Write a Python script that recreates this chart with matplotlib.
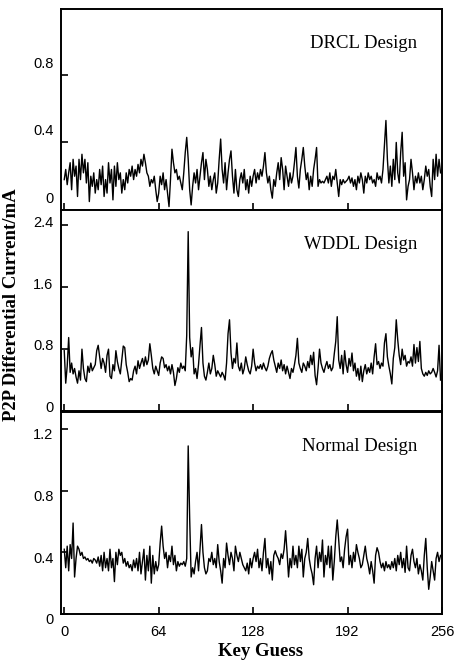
import matplotlib
matplotlib.use("Agg")
import matplotlib.pyplot as plt
import matplotlib.transforms as mtransforms
import numpy as np

key_guess = np.arange(256)

drcl = [
    0.18, 0.24, 0.15, 0.22, 0.28, 0.12, 0.30, 0.20, 0.26, 0.08, 0.30, 0.18, 0.33, 0.22, 0.30, 0.16,
    0.28, 0.05, 0.20, 0.14, 0.22, 0.10, 0.18, 0.12, 0.24, 0.15, 0.26, 0.08, 0.18, 0.10, 0.28, 0.16,
    0.24, 0.06, 0.26, 0.14, 0.28, 0.18, 0.22, 0.10, 0.18, 0.12, 0.22, 0.16, 0.24, 0.20, 0.26, 0.18,
    0.24, 0.20, 0.27, 0.22, 0.30, 0.26, 0.33, 0.28, 0.22, 0.20, 0.14, 0.18, 0.16, 0.20, 0.12, 0.05,
    0.10, 0.20, 0.15, 0.22, 0.12, 0.18, 0.10, 0.02, 0.18, 0.36, 0.28, 0.22, 0.24, 0.18, 0.20, 0.16,
    0.12, 0.22, 0.34, 0.43, 0.30, 0.12, 0.03, 0.14, 0.22, 0.16, 0.24, 0.12, 0.20, 0.28, 0.34, 0.18,
    0.30, 0.24, 0.14, 0.20, 0.12, 0.18, 0.22, 0.10, 0.16, 0.30, 0.42, 0.24, 0.16, 0.28, 0.12, 0.22,
    0.30, 0.35, 0.20, 0.10, 0.24, 0.12, 0.08, 0.18, 0.22, 0.16, 0.24, 0.12, 0.18, 0.10, 0.20, 0.14,
    0.20, 0.24, 0.16, 0.22, 0.18, 0.24, 0.20, 0.26, 0.34, 0.22, 0.16, 0.20, 0.12, 0.07, 0.18, 0.14,
    0.22, 0.28, 0.18, 0.31, 0.24, 0.12, 0.26, 0.20, 0.14, 0.22, 0.16, 0.20, 0.28, 0.37, 0.20, 0.13,
    0.24, 0.30, 0.37, 0.26, 0.18, 0.22, 0.12, 0.20, 0.14, 0.24, 0.30, 0.37, 0.14, 0.18, 0.16, 0.17,
    0.16, 0.18, 0.20, 0.16, 0.22, 0.14, 0.20, 0.18, 0.24, 0.16, 0.08, 0.18, 0.15, 0.18, 0.16, 0.17,
    0.18, 0.20, 0.16, 0.19, 0.14, 0.18, 0.12, 0.20, 0.16, 0.22, 0.18, 0.10, 0.20, 0.16, 0.22, 0.18,
    0.20, 0.16, 0.18, 0.14, 0.22, 0.18, 0.20, 0.16, 0.24, 0.38, 0.53, 0.30, 0.16, 0.26, 0.14, 0.30,
    0.18, 0.40, 0.22, 0.16, 0.34, 0.46, 0.20, 0.28, 0.06, 0.14, 0.18, 0.30, 0.22, 0.12, 0.20, 0.16,
    0.22, 0.16, 0.20, 0.12, 0.18, 0.26, 0.20, 0.24, 0.14, 0.08, 0.30, 0.18, 0.33, 0.20, 0.30, 0.22,
]

wddl = [
    0.78, 0.36, 0.58, 0.95, 0.50, 0.62, 0.48, 0.55, 0.44, 0.36, 0.52, 0.40, 0.80, 0.55, 0.42, 0.38,
    0.58, 0.50, 0.62, 0.52, 0.56, 0.60, 0.78, 0.85, 0.70, 0.55, 0.68, 0.62, 0.50, 0.72, 0.80, 0.45,
    0.42, 0.60, 0.52, 0.78, 0.64, 0.55, 0.48, 0.66, 0.84, 0.82, 0.60, 0.50, 0.38, 0.42, 0.40, 0.52,
    0.58, 0.48, 0.65, 0.55, 0.62, 0.68, 0.58, 0.70, 0.60, 0.66, 0.87, 0.72, 0.55, 0.48, 0.58, 0.52,
    0.46, 0.62, 0.70, 0.68, 0.56, 0.60, 0.52, 0.58, 0.48, 0.60, 0.50, 0.33, 0.42, 0.56, 0.50, 0.62,
    0.55, 0.58, 0.52, 0.98, 2.32, 0.95, 0.70, 0.82, 0.48, 0.55, 0.42, 0.60, 0.85, 1.08, 0.62, 0.45,
    0.40, 0.50, 0.62, 0.48, 0.55, 0.72, 0.60, 0.45, 0.52, 0.48, 0.44, 0.50, 0.46, 0.40, 0.62, 1.00,
    1.18, 0.75, 0.55, 0.68, 0.62, 0.88, 0.58, 0.52, 0.62, 0.48, 0.55, 0.70, 0.60, 0.52, 0.48, 0.58,
    0.80, 0.62, 0.52, 0.58, 0.55, 0.60, 0.54, 0.62, 0.56, 0.52, 0.58, 0.68, 0.74, 0.78, 0.66, 0.58,
    0.50, 0.62, 0.55, 0.66, 0.52, 0.60, 0.48, 0.58, 0.50, 0.42, 0.55, 0.50, 0.60, 0.72, 0.94, 0.62,
    0.55, 0.50, 0.62, 0.58, 0.52, 0.64, 0.56, 0.72, 0.60, 0.76, 0.46, 0.34, 0.55, 0.80, 0.62, 0.55,
    0.50, 0.58, 0.64, 0.55, 0.60, 0.52, 0.56, 0.74, 0.90, 1.22, 0.66, 0.55, 0.72, 0.48, 0.78, 0.60,
    0.50, 0.68, 0.58, 0.75, 0.52, 0.62, 0.45, 0.55, 0.40, 0.58, 0.38, 0.52, 0.60, 0.48, 0.56, 0.50,
    0.62, 0.48, 0.70, 0.87, 0.60, 0.64, 0.55, 0.62, 0.58, 0.88, 1.00, 0.70, 0.58, 0.48, 0.35, 0.68,
    0.82, 1.18, 0.92, 0.72, 0.60, 0.80, 0.66, 0.72, 0.58, 0.64, 0.62, 0.70, 0.58, 0.86, 0.62, 0.82,
    0.64, 0.90, 0.55, 0.48, 0.45, 0.50, 0.46, 0.52, 0.48, 0.50, 0.55, 0.50, 0.44, 0.52, 0.85, 0.40,
]

normal = [
    0.42, 0.30, 0.44, 0.28, 0.45, 0.36, 0.59, 0.24, 0.36, 0.44, 0.42, 0.38, 0.40, 0.36, 0.37, 0.35,
    0.36, 0.34, 0.35, 0.33, 0.36, 0.35, 0.33, 0.37, 0.31, 0.38, 0.28, 0.40, 0.30, 0.36, 0.28, 0.42,
    0.30, 0.36, 0.21, 0.40, 0.32, 0.42, 0.38, 0.40, 0.33, 0.36, 0.31, 0.34, 0.30, 0.32, 0.28, 0.35,
    0.30, 0.36, 0.28, 0.40, 0.26, 0.34, 0.42, 0.22, 0.38, 0.28, 0.44, 0.20, 0.38, 0.26, 0.34, 0.28,
    0.32, 0.46, 0.57, 0.44, 0.36, 0.40, 0.30, 0.38, 0.34, 0.44, 0.32, 0.38, 0.28, 0.34, 0.31, 0.33,
    0.32, 0.34, 0.31, 0.36, 1.09, 0.62, 0.24, 0.30, 0.26, 0.34, 0.40, 0.28, 0.42, 0.58, 0.40, 0.30,
    0.26, 0.28, 0.36, 0.34, 0.40, 0.32, 0.36, 0.30, 0.45, 0.34, 0.28, 0.20, 0.36, 0.30, 0.46, 0.38,
    0.32, 0.40, 0.36, 0.28, 0.44, 0.38, 0.34, 0.40, 0.36, 0.32, 0.30, 0.28, 0.33, 0.26, 0.36, 0.30,
    0.36, 0.40, 0.34, 0.42, 0.30, 0.36, 0.28, 0.40, 0.49, 0.30, 0.36, 0.26, 0.34, 0.22, 0.38, 0.41,
    0.38, 0.36, 0.32, 0.39, 0.36, 0.42, 0.54, 0.40, 0.24, 0.36, 0.30, 0.44, 0.32, 0.38, 0.30, 0.44,
    0.34, 0.42, 0.24, 0.36, 0.40, 0.49, 0.36, 0.30, 0.26, 0.19, 0.36, 0.44, 0.30, 0.40, 0.34, 0.48,
    0.24, 0.38, 0.32, 0.44, 0.30, 0.44, 0.22, 0.34, 0.50, 0.61, 0.48, 0.34, 0.37, 0.30, 0.42, 0.50,
    0.55, 0.32, 0.38, 0.30, 0.40, 0.34, 0.45, 0.40, 0.36, 0.30, 0.32, 0.38, 0.44, 0.36, 0.32, 0.26,
    0.34, 0.28, 0.20, 0.38, 0.43, 0.40, 0.34, 0.30, 0.33, 0.28, 0.34, 0.30, 0.32, 0.29, 0.34, 0.30,
    0.36, 0.28, 0.38, 0.32, 0.40, 0.30, 0.36, 0.27, 0.44, 0.30, 0.28, 0.38, 0.42, 0.34, 0.30, 0.36,
    0.26, 0.32, 0.28, 0.22, 0.38, 0.49, 0.30, 0.16, 0.24, 0.34, 0.28, 0.22, 0.36, 0.40, 0.34, 0.38,
]

titles = ["DRCL Design", "WDDL Design", "Normal Design"]
series = [drcl, wddl, normal]
yticks = [[0, 0.4, 0.8], [0, 0.8, 1.6, 2.4], [0, 0.4, 0.8, 1.2]]
ytick_labels = [["0", "0.4", "0.8"], ["0", "0.8", "1.6", "2.4"], ["0", "0.4", "0.8", "1.2"]]
ylims = [(0, 1.19), (0, 2.6), (0, 1.31)]
xticks = [0, 64, 128, 192, 256]
xtick_labels = ["0", "64", "128", "192", "256"]

W, H = 457, 660
fig = plt.figure(figsize=(W / 100, H / 100), dpi=100)

left = 61 / W
width = 381 / W
panels_px = [(9, 210), (210, 411), (412, 614)]
label_shift_pt = [9.0, 3.0, -3.5]

tick_font = dict(family="Liberation Sans", size=10.5)
serif = "Liberation Serif"

for i, (top, bot) in enumerate(panels_px):
    ax = fig.add_axes([left, (H - bot) / H, width, (bot - top) / H])
    ax.plot(key_guess, series[i], color="black", linewidth=1.0)
    ax.set_xlim(-2.2, 256)
    ax.set_ylim(*ylims[i])
    ax.set_yticks(yticks[i])
    ax.set_yticklabels(ytick_labels[i], fontdict=tick_font)
    ax.set_xticks(xticks)
    if i == 2:
        ax.set_xticklabels(xtick_labels, fontdict=tick_font)
    else:
        ax.set_xticklabels([])
    ax.tick_params(direction="in", length=5, width=1.2, pad=5.5)
    ax.tick_params(axis="x", pad=8)
    for s in ax.spines.values():
        s.set_linewidth(1.4)
    off = mtransforms.ScaledTranslation(0, label_shift_pt[i] / 72, fig.dpi_scale_trans)
    for lbl in ax.get_yticklabels():
        lbl.set_transform(lbl.get_transform() + off)
    ax.text(0.935, 0.83, titles[i], transform=ax.transAxes, ha="right", va="center",
            family=serif, fontsize=13.5)

fig.text(12 / W, 1 - 305 / H, "P2P Differential Current/mA", rotation=90,
         ha="center", va="center", family=serif, fontweight="bold", fontsize=13.5)
fig.text(261 / W, 1 - 651 / H, "Key Guess", ha="center", va="center",
         family=serif, fontweight="bold", fontsize=13.5)

fig.savefig("out.png", dpi=100)
